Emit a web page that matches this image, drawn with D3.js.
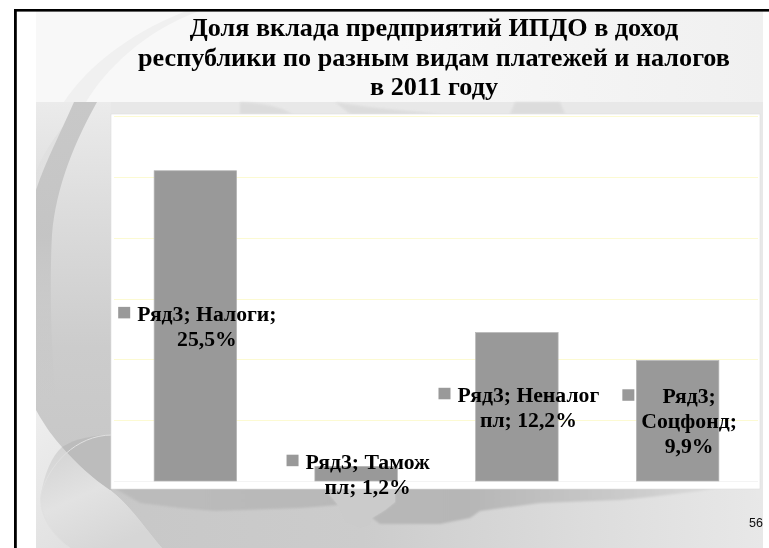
<!DOCTYPE html>
<html><head><meta charset="utf-8">
<script src="https://cdn.jsdelivr.net/npm/d3@7"></script>
<style>html,body{margin:0;padding:0;background:#fff;overflow:hidden}svg{display:block}</style>
</head><body><div id="c"></div>
<script>
const titleLines = ["Доля вклада предприятий ИПДО в доход","республики по разным видам платежей и налогов","в 2011 году"];
const categories = ["Налоги","Тамож пл","Неналог пл","Соцфонд"];
const values = [25.5,1.2,12.2,9.9];
const labelLines = [["Ряд3; Налоги;","25,5%"],["Ряд3; Тамож","пл; 1,2%"],["Ряд3; Неналог","пл; 12,2%"],["Ряд3;","Соцфонд;","9,9%"]];
const yTicks = [0,5,10,15,20,25,30];
const pageNumber = "56";

const W=769,H=548;
const svg=d3.select("#c").append("svg").attr("width",W).attr("height",H);
const defs=svg.append("defs");
function grad(id,x1,y1,x2,y2,stops,user){
  const g=defs.append("linearGradient").attr("id",id).attr("x1",x1).attr("y1",y1).attr("x2",x2).attr("y2",y2);
  if(user) g.attr("gradientUnits","userSpaceOnUse");
  stops.forEach(s=>{const st=g.append("stop").attr("offset",s[0]).attr("stop-color",s[1]); if(s[2]!==undefined) st.attr("stop-opacity",s[2]);});
}
grad("top",0,0,1,0,[[0,"#f8f8f8"],[.5,"#f8f8f8"],[1,"#f0f0f0"]]);
grad("strip",0,102,0,548,[[0,"#ebebeb"],[.25,"#dcdcdc"],[.55,"#cccccc"],[1,"#c4c4c4"]],true);
grad("land",36,0,763,0,[[0,"#c6c6c6"],[.45,"#cccccc"],[.75,"#dcdcdc"],[1,"#e8e8e8"]],true);
grad("sea",110,0,760,0,[[0,"#bcbcbc"],[.55,"#b6b6b6"],[.82,"#cdcdcd"],[1,"#e4e4e4"]],true);
grad("corner",36,410,160,548,[[0,"#eeeeee"],[1,"#dadada"]],true);
grad("disc",60,440,110,548,[[0,"#d2d2d2"],[.5,"#e2e2e2"],[1,"#d6d6d6"]],true);
grad("arc",0,102,0,400,[[0,"#c8c8c8",1],[.45,"#c2c2c2",.9],[1,"#c4c4c4",0]],true);
grad("arc2",0,102,0,190,[[0,"#dcdcdc",.8],[1,"#dcdcdc",.2]],true);
defs.append("filter").attr("id","soft").append("feGaussianBlur").attr("stdDeviation",0.4);
defs.append("filter").attr("id","soft2").append("feGaussianBlur").attr("stdDeviation",1);
defs.append("clipPath").attr("id","slide").append("rect").attr("x",36).attr("y",11).attr("width",727).attr("height",537);

/* slide background */
const bg=svg.append("g").attr("clip-path","url(#slide)");
const curve="M36 410 C46 428 54 438 62 447 C76 463 92 478 110 490 C130 505 146 530 162 548";
bg.append("rect").attr("x",36).attr("y",102).attr("width",100).attr("height",400).attr("fill","url(#strip)");
bg.append("rect").attr("x",36).attr("y",480).attr("width",727).attr("height",68).attr("fill","url(#land)");
bg.append("rect").attr("x",111).attr("y",102).attr("width",652).attr("height",20).attr("fill","#e8e8e8");
bg.append("rect").attr("x",756).attr("y",102).attr("width",7).attr("height",395).attr("fill","#e8e8e8");
// sea band under the panel
bg.append("path").attr("fill","url(#sea)").attr("filter","url(#soft2)")
  .attr("d","M100 480 H763 L700 491 L650 497 L620 500 L540 503 L480 511 L470 518 L440 524 L380 524 L372 518 L385 510 L395 502 L395 490 H325 L338 505 L300 508 L215 511 L180 508 L140 503 Z");
// peninsula
bg.append("path").attr("fill","#cbcbcb").attr("filter","url(#soft)")
  .attr("d","M325 488 H395 V502 L385 510 L372 518 L370 525 L360 528 L345 522 L338 505 Z");
// light corner bounded by the big curve
bg.append("path").attr("fill","url(#corner)").attr("d",curve+" H36 Z");
// disc: inner part on each side of the curve
bg.append("path").attr("fill","url(#disc)").attr("d","M62 447 C52 456 44 474 41 495 C39 515 52 535 70 548 H162 C146 530 130 505 110 490 C92 478 76 463 62 447 Z");
bg.append("path").attr("fill","#bcbcbc").attr("d","M62 447 C76 438 95 435 112 435 V490 H110 C92 478 76 463 62 447 Z");
bg.append("path").attr("fill","none").attr("stroke","#e0e0e0").attr("d","M112 435 C76 435 48 465 41 495 C39 515 52 535 70 548");
// upper-left arcs
bg.append("path").attr("fill","url(#arc2)").attr("d","M85 102 C62 125 44 150 36 172 V190 C46 160 62 130 76 102 Z");
bg.append("path").attr("fill","url(#arc)").attr("d","M74 102 C62 130 46 160 36 190 V400 H56 C50 340 50 270 52 235 C56 185 76 140 97 102 Z");
// title band
bg.append("rect").attr("x",36).attr("y",11).attr("width",727).attr("height",91).attr("fill","url(#top)");
bg.append("path").attr("fill","#f0f0f0").attr("d","M186 11 C125 35 85 70 64 102 H86 C105 70 145 30 200 11 Z");
// faint map blobs above panel
bg.append("path").attr("fill","#d8d8d8").attr("filter","url(#soft2)").attr("opacity",.7)
  .attr("d","M240 102 C265 103 285 108 292 114 H240 Z M335 102 C370 108 400 110 440 114 H350 Z M515 102 L560 102 L565 114 L510 114 Z");

/* page frame */
svg.append("rect").attr("x",14).attr("y",9).attr("width",755).attr("height",2.6).attr("fill","#000");
svg.append("rect").attr("x",14).attr("y",9).attr("width",2.8).attr("height",539).attr("fill","#000");

/* chart panel */
svg.append("rect").attr("x",111).attr("y",114).attr("width",649).attr("height",375).attr("fill","#fff").attr("stroke","#dcdcdc").attr("stroke-width",.6);

const x=d3.scaleBand().domain(categories).range([115,758]).paddingInner(.487).paddingOuter(.2435);
const y=d3.scaleLinear().domain([0,30]).range([481,116]);
const chart=svg.append("g");
chart.selectAll("line.grid").data(yTicks).join("line").attr("class","grid")
  .attr("x1",114).attr("x2",758).attr("y1",d=>Math.round(y(d))+.5).attr("y2",d=>Math.round(y(d))+.5)
  .attr("stroke",d=>d===0?"#f4f4f4":"#fcfad2").attr("stroke-width",1);
chart.selectAll("rect.bar").data(values).join("rect").attr("class","bar")
  .attr("x",(d,i)=>x(categories[i])).attr("width",x.bandwidth())
  .attr("y",d=>y(d)).attr("height",d=>y(0)-y(d))
  .attr("fill","#999999").attr("stroke","#b4b4b4").attr("stroke-width",.7);

/* data labels: block centred on bar, vertical centre at half the value */
const LH=25,FS=21.7;
const txt=svg.append("g").attr("filter","url(#soft)");
values.forEach((v,i)=>{
  const lines=labelLines[i];
  const g=txt.append("g");
  const t=g.append("text").attr("font-family","'Liberation Serif',serif").attr("font-weight","bold").attr("font-size",FS).attr("fill","#000").attr("text-anchor","middle");
  lines.forEach((s,k)=>t.append("tspan").attr("x",0).attr("y",k*LH).text(s));
  const w=d3.max(t.selectAll("tspan").nodes(),n=>n.getComputedTextLength());
  const cx=x(categories[i])+x.bandwidth()/2+2;
  const total=w+19;
  const left=cx-total/2;
  const top=y(v/2)-(lines.length*LH)/2+20;
  t.attr("transform",`translate(${left+19+w/2},${top})`);
  g.append("rect").attr("x",left).attr("y",top-14).attr("width",12).attr("height",11.5).attr("fill","#999");
});

/* title */
const tt=svg.append("g").attr("filter","url(#soft)");
const titleY=[36,66,95];
tt.selectAll("text").data(titleLines).join("text")
  .attr("x",434).attr("y",(d,i)=>titleY[i]).attr("text-anchor","middle")
  .attr("font-family","'Liberation Serif',serif").attr("font-weight","bold").attr("font-size",26.2).attr("fill","#000").text(d=>d);

svg.append("text").attr("x",763).attr("y",527).attr("text-anchor","end").attr("filter","url(#soft)").attr("font-family","'Liberation Sans',sans-serif").attr("font-size",12.5).attr("fill","#111").text(pageNumber);
</script></body></html>
